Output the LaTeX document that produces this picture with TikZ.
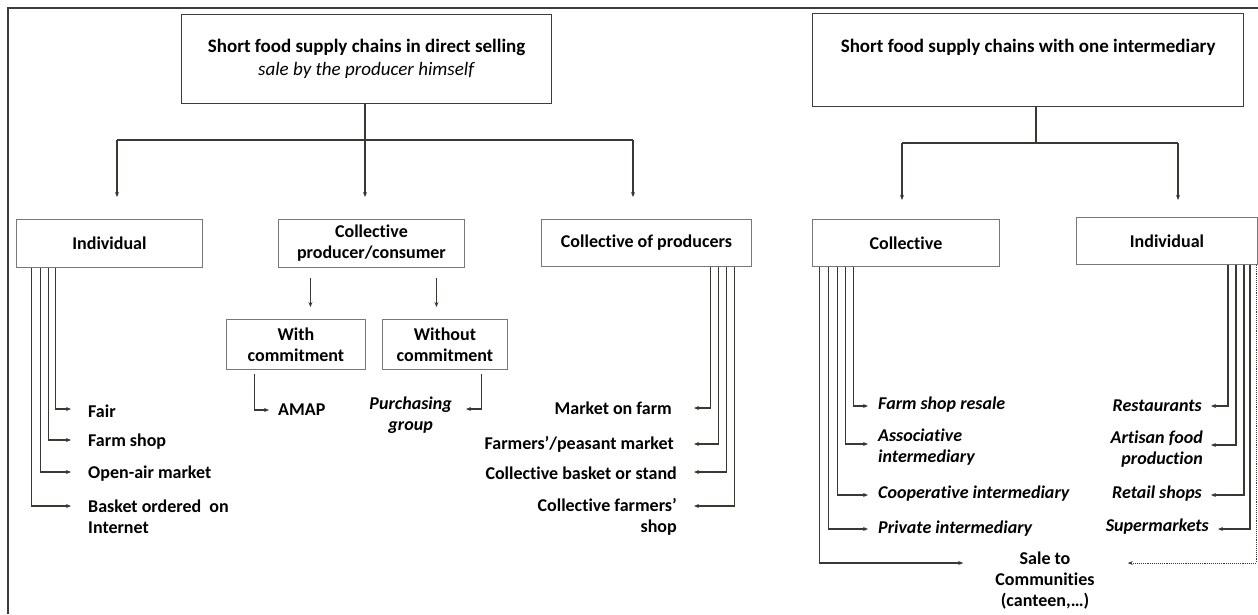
\documentclass[tikz,border=0pt]{standalone}
\usepackage{fontspec}
\setmainfont{Carlito}[Ligatures=NoCommon]
\usetikzlibrary{arrows.meta}
\definecolor{lineC}{RGB}{58,56,48}
\definecolor{boxC}{RGB}{120,120,120}
\definecolor{titleC}{RGB}{60,60,60}
\newcommand\txtBody{\fontsize{18}{21}\selectfont\bfseries}
\newcommand\txtTitle{\fontsize{19}{23}\selectfont}
\begin{document}
\begin{tikzpicture}[x=1pt,y=-1pt,
  conn/.style={draw=lineC, line width=1.2pt},
  arr/.style={conn, -{Stealth[length=5pt,width=4pt]}},
  dotarr/.style={draw=lineC, line width=0.9pt, densely dotted, -{Stealth[length=5pt,width=4pt]}},
  box/.style={draw=boxC, line width=0.9pt, inner sep=0pt, align=center, font=\txtBody, anchor=north west},
  titlebox/.style={draw=titleC, line width=1.2pt, inner sep=0pt, align=center, font=\txtTitle, anchor=north west},
  lbl/.style={inner sep=0pt, font=\txtBody},
  lblit/.style={inner sep=0pt, font=\txtBody\itshape}
]
\useasboundingbox (0,0) rectangle (1258,614);
% outer frame
\draw[draw=titleC, line width=1.1pt] (8,614) -- (8,8) -- (1258,8);

% ---------- direct selling ----------
\node[titlebox, minimum width=370pt, minimum height=89pt] (t1) at (181,14)
  {\textbf{Short food supply chains in direct selling}\\\textit{sale by the producer himself}};

\node[box, minimum width=186pt, minimum height=48pt] (indL) at (16,219) {Individual};
\node[box, minimum width=186pt, minimum height=48pt] (cpc) at (278,219) {Collective\\producer/consumer};
\node[box, minimum width=210pt, minimum height=47pt] (cop) at (541,219) {Collective of producers};
\node[box, minimum width=139pt, minimum height=50pt] (wc) at (226,319) {With\\commitment};
\node[box, minimum width=125pt, minimum height=50pt] (woc) at (382,319) {Without\\commitment};

\coordinate (j1) at (365,140);
\coordinate (h1) at (117,140);
\coordinate (h3) at (633,140);
\draw[conn] (t1.south -| j1) -- (j1);
\draw[conn] (h1) -- (h3);
\draw[arr, shorten >=22pt] (h1) -- (h1 |- indL.north);
\draw[arr, shorten >=22pt] (j1) -- (j1 |- cpc.north);
\draw[arr, shorten >=22pt] (h3) -- (h3 |- cop.north);

\coordinate (s1) at ([xshift=-61pt]cpc.south);
\coordinate (s2) at ([xshift=65pt]cpc.south);
\draw[arr, shorten <=10pt, shorten >=12pt] (s1) -- (s1 |- wc.north);
\draw[arr, shorten <=10pt, shorten >=12pt] (s2) -- (s2 |- woc.north);

% individual sales
\node[lbl, anchor=west] (fair) at (88,411) {Fair};
\node[lbl, anchor=west] (fshop) at (88,442) {Farm shop};
\node[lbl, anchor=west] (oam) at (88,474) {Open-air market};
\node[lbl, anchor=west, align=left] (bask) at (88,517) {Basket ordered~ on\\Internet};
\draw[arr] ([xshift=-54pt]indL.south) |- ([xshift=-17pt,yshift=2pt]fair.west);
\draw[arr] ([xshift=-61pt]indL.south) |- ([xshift=-17pt,yshift=2pt]fshop.west);
\draw[arr] ([xshift=-69pt]indL.south) |- ([xshift=-17pt,yshift=2pt]oam.west);
\draw[arr] ([xshift=-78pt]indL.south) |- ([xshift=-17pt,yshift=11pt]bask.west);

% producer/consumer sales
\node[lbl, anchor=west] (amap) at (278,410) {AMAP};
\node[lblit, anchor=east, align=center] (pg) at (452,415) {Purchasing\\group};
\draw[arr, shorten <=4pt] ([xshift=-41.5pt]wc.south) |- ([xshift=-9pt]amap.west);
\draw[arr, shorten <=4pt] ([xshift=36.5pt]woc.south) |- ([xshift=14pt,yshift=6pt]pg.east);

% collective of producers sales
\node[lbl, anchor=east] (mof) at (672,408) {Market on farm};
\node[lbl, anchor=east] (fpm) at (674,444) {Farmers’/peasant market};
\node[lbl, anchor=east] (cbs) at (677,473) {Collective basket or stand};
\node[lbl, anchor=east, align=right] (cfs) at (677,517) {Collective farmers’\\shop};
\draw[arr] ([xshift=64pt]cop.south) |- ([xshift=22pt]mof.east);
\draw[arr] ([xshift=72pt]cop.south) |- ([xshift=20pt]fpm.east);
\draw[arr] ([xshift=80pt]cop.south) |- ([xshift=17pt,yshift=1pt]cbs.east);
\draw[arr] ([xshift=88pt]cop.south) |- ([xshift=17pt,yshift=11pt]cfs.east);

% ---------- one intermediary ----------
\node[titlebox, minimum width=431pt, minimum height=93pt] (t2) at (812,13)
  {\textbf{Short food supply chains with one intermediary}\\[-2pt]\strut};

\node[box, minimum width=187pt, minimum height=47pt] (colR) at (812,219) {Collective};
\node[box, minimum width=181pt, minimum height=47pt] (indR) at (1076,217) {Individual};

\coordinate (j2) at (1036,143);
\coordinate (h4) at (902,143);
\coordinate (h5) at (1178,143);
\draw[conn] (t2.south -| j2) -- (j2);
\draw[conn] (h4) -- (h5);
\draw[arr, shorten >=19pt] (h4) -- (h4 |- colR.north);
\draw[arr, shorten >=17pt] (h5) -- (h5 |- indR.north);

% collective intermediaries
\node[lblit, anchor=west] (fsr) at (878,405) {Farm shop resale};
\node[lblit, anchor=west, align=left] (asi) at (878,447.5) {Associative\\intermediary};
\node[lblit, anchor=west] (coi) at (878,494) {Cooperative intermediary};
\node[lblit, anchor=west] (pri) at (878,529) {Private intermediary};
\node[lbl, align=center] (stc) at (1045,580.5) {Sale to\\Communities\\(canteen,…)};
\draw[arr] ([xshift=-52.5pt]colR.south) |- ([xshift=-10pt,yshift=-1pt]fsr.west);
\draw[arr] ([xshift=-60.5pt]colR.south) |- ([xshift=-10pt,yshift=3.5pt]asi.west);
\draw[arr] ([xshift=-68.5pt]colR.south) |- ([xshift=-10pt,yshift=-1pt]coi.west);
\draw[arr] ([xshift=-77.5pt]colR.south) |- ([xshift=-10pt]pri.west);
\draw[arr] ([xshift=-86.5pt]colR.south) |- ([xshift=-32pt,yshift=17.5pt]stc.west);

% individual intermediaries
\node[lblit, anchor=east] (rest) at (1202,406) {Restaurants};
\node[lblit, anchor=east, align=right] (afp) at (1203,449.5) {Artisan food\\production};
\node[lblit, anchor=east] (rts) at (1202,494) {Retail shops};
\node[lblit, anchor=east] (smk) at (1209,527) {Supermarkets};
\draw[arr] ([xshift=61pt]indR.south) |- ([xshift=9pt]rest.east);
\draw[arr] ([xshift=69pt]indR.south) |- ([xshift=8pt,yshift=4.5pt]afp.east);
\draw[arr] ([xshift=77pt]indR.south) |- ([xshift=9pt,yshift=-1pt]rts.east);
\draw[arr] ([xshift=83pt]indR.south) |- ([xshift=9pt,yshift=-2pt]smk.east);
\draw[dotarr] ([xshift=89pt]indR.south) |- ([xshift=33pt,yshift=17.5pt]stc.east);
\end{tikzpicture}
\end{document}
